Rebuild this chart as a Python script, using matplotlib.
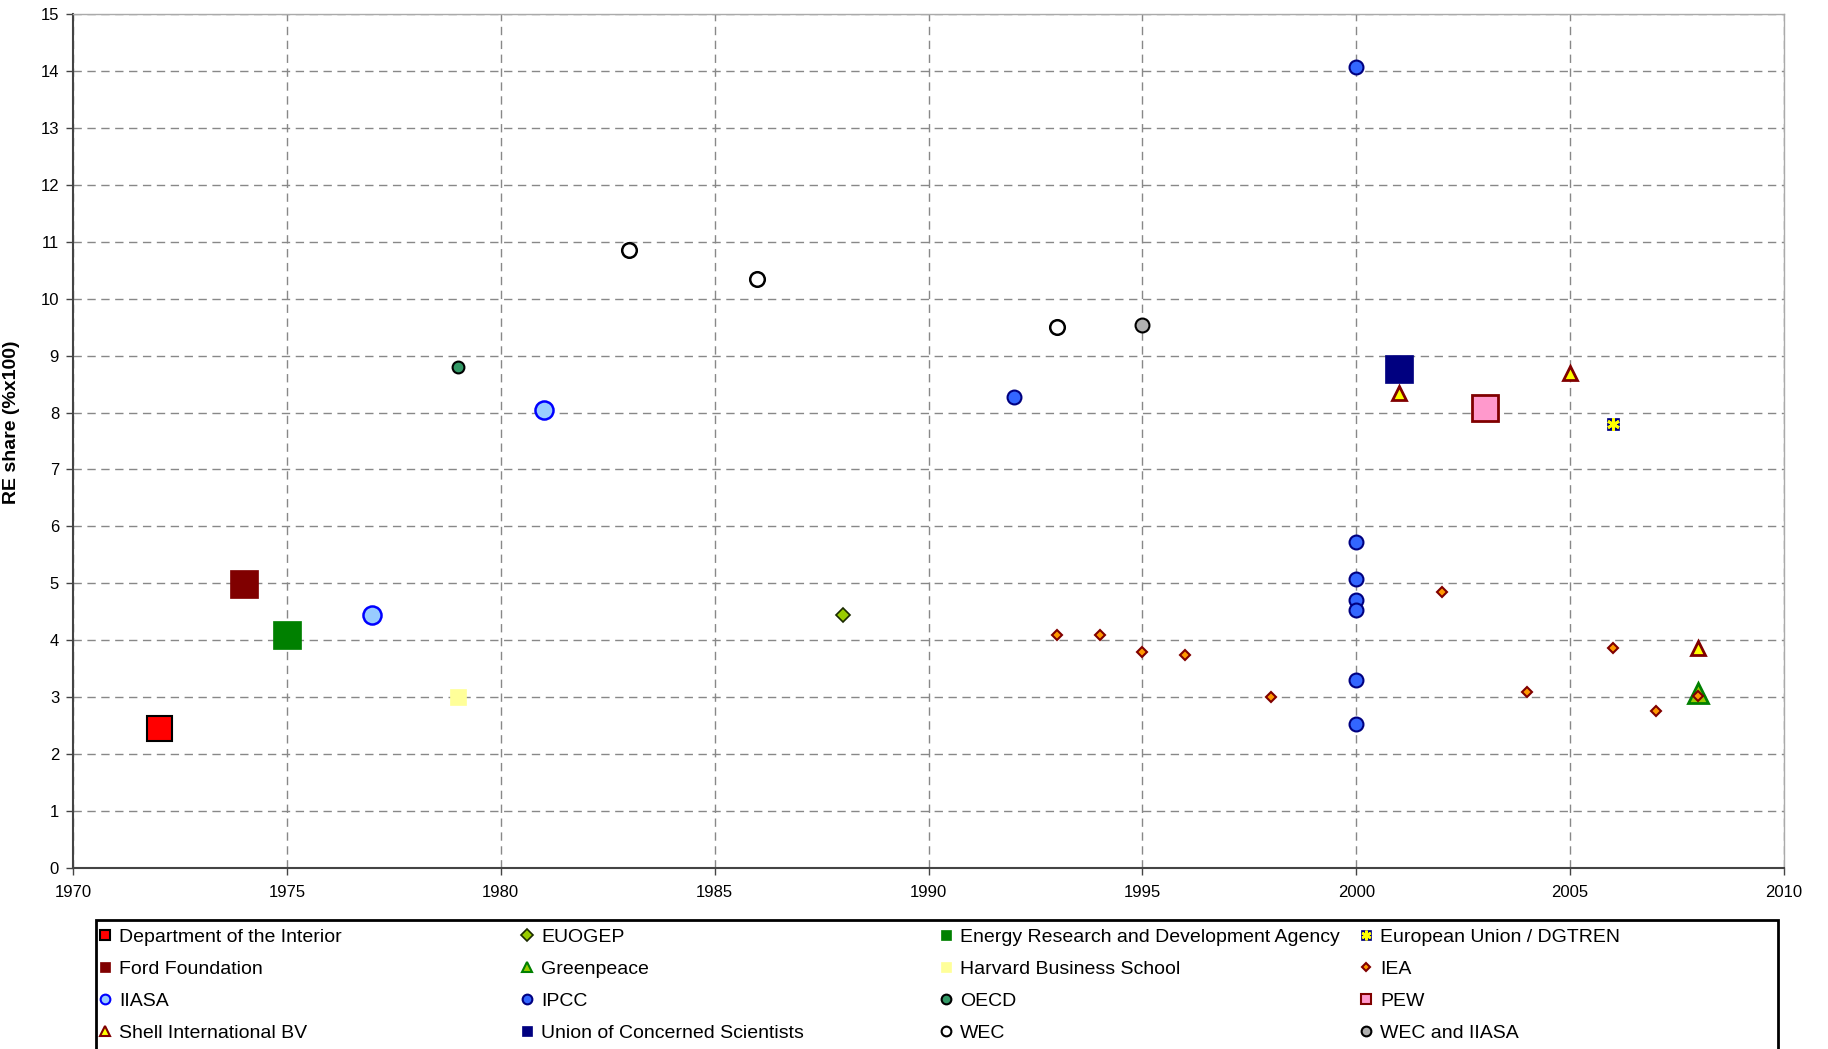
import matplotlib.pyplot as plt
from matplotlib.lines import Line2D
from matplotlib.patches import Rectangle
from matplotlib.legend_handler import HandlerTuple

plt.rcParams['font.family'] = ['Liberation Sans', 'DejaVu Sans']

# scenario year / RE share per organisation
dept_interior_x = [1972]
dept_interior_y = [2.46]
euogep_x = [1988]
euogep_y = [4.45]
erda_x = [1975]
erda_y = [4.1]
eu_dgtren_x = [2006]
eu_dgtren_y = [7.8]
ford_x = [1974]
ford_y = [4.98]
greenpeace_x = [2008]
greenpeace_y = [3.08]
harvard_x = [1979]
harvard_y = [3.0]
iea_x = [1993, 1994, 1995, 1996, 1998, 2002, 2004, 2006, 2007, 2008]
iea_y = [4.1, 4.1, 3.8, 3.75, 3.0, 4.84, 3.1, 3.86, 2.75, 3.02]
iiasa_x = [1977, 1981]
iiasa_y = [4.45, 8.05]
ipcc_x = [1992, 2000, 2000, 2000, 2000, 2000, 2000, 2000]
ipcc_y = [8.28, 14.07, 5.72, 5.08, 4.70, 4.53, 3.31, 2.53]
oecd_x = [1979]
oecd_y = [8.8]
pew_x = [2003]
pew_y = [8.08]
shell_x = [2001, 2005, 2008]
shell_y = [8.35, 8.7, 3.87]
ucs_x = [2001]
ucs_y = [8.76]
wec_x = [1983, 1986, 1993]
wec_y = [10.85, 10.35, 9.5]
wec_iiasa_x = [1995]
wec_iiasa_y = [9.53]

# name, x, y, marker, size, legend size, face, edge, edge width
series = [
    ('Department of the Interior', dept_interior_x, dept_interior_y, 's', 18, 7, '#FF0000', '#000000', 1.5),
    ('EUOGEP', euogep_x, euogep_y, 'D', 7, 6, '#99CC00', '#1a2a00', 1.2),
    ('Energy Research and Development Agency', erda_x, erda_y, 's', 20, 7, '#008000', '#008000', 0.5),
    ('European Union / DGTREN', eu_dgtren_x, eu_dgtren_y, 's', 8.5, 7, '#000080', '#000080', 0.5),
    ('Ford Foundation', ford_x, ford_y, 's', 20, 7, '#800000', '#800000', 0.5),
    ('Greenpeace', greenpeace_x, greenpeace_y, '^', 14, 7.5, '#99CC00', '#008000', 2.0),
    ('Harvard Business School', harvard_x, harvard_y, 's', 11, 7, '#FFFF99', '#FFFF99', 0.5),
    ('IEA', iea_x, iea_y, 'D', 5, 4.5, '#FF9900', '#800000', 1.5),
    ('IIASA', iiasa_x, iiasa_y, 'o', 13, 7, '#99CCFF', '#0000FF', 1.8),
    ('IPCC', ipcc_x, ipcc_y, 'o', 10, 7, '#3366FF', '#000080', 1.5),
    ('OECD', oecd_x, oecd_y, 'o', 8.5, 7, '#339966', '#000000', 1.5),
    ('PEW', pew_x, pew_y, 's', 19, 7, '#FF99CC', '#800000', 2.0),
    ('Shell International BV', shell_x, shell_y, '^', 10, 7, '#FFFF00', '#800000', 2.0),
    ('Union of Concerned Scientists', ucs_x, ucs_y, 's', 20, 7, '#000080', '#000080', 0.5),
    ('WEC', wec_x, wec_y, 'o', 10.5, 7, '#FFFFFF', '#000000', 1.8),
    ('WEC and IIASA', wec_iiasa_x, wec_iiasa_y, 'o', 10, 7, '#B0B0B0', '#000000', 1.5),
]

fig = plt.figure(figsize=(18.28, 10.49), dpi=100)
ax = fig.add_axes([73 / 1828, 1 - 868 / 1049, (1784 - 73) / 1828, (868 - 14) / 1049])

handles = []
for name, xs, ys, mk, ms, lms, fc, ec, ew in series:
    ax.plot(xs, ys, linestyle='none', marker=mk, markersize=ms,
            markerfacecolor=fc, markeredgecolor=ec, markeredgewidth=ew, zorder=3)
    h = Line2D([], [], linestyle='none', marker=mk, markersize=lms,
               markerfacecolor=fc, markeredgecolor=ec, markeredgewidth=min(ew, 1.5))
    if name == 'European Union / DGTREN':
        # excel "star" marker: yellow cross strokes on a navy square
        ax.plot(xs, ys, linestyle='none', marker=(6, 2, 0), markersize=9,
                markeredgecolor='#FFFF00', markeredgewidth=2, zorder=4)
        star = Line2D([], [], linestyle='none', marker=(6, 2, 0), markersize=7,
                      markeredgecolor='#FFFF00', markeredgewidth=1.8)
        h = (h, star)
    handles.append((h, name))

ax.set_xlim(1970, 2010)
ax.set_ylim(0, 15)
ax.set_xticks(range(1970, 2011, 5))
ax.set_yticks(range(0, 16))
ax.tick_params(direction='out', length=5, width=1, labelsize=12, pad=5, color='#444444')
ax.tick_params(axis='x', pad=7)
ax.grid(True, linestyle=(0, (6, 4)), color='#888888', linewidth=1)
ax.set_axisbelow(True)
for side in ['left', 'bottom']:
    ax.spines[side].set_color('#444444')
    ax.spines[side].set_linewidth(1.5)
for side in ['top', 'right']:
    ax.spines[side].set_color('#AAAAAA')
    ax.spines[side].set_linewidth(1)
ax.set_ylabel('RE share (%x100)', fontsize=14, fontweight='bold')
ax.yaxis.set_label_coords(-0.031, 0.522)

# legend frame, cut off by the bottom of the figure like the original
fig.patches.append(Rectangle((96 / 1828, -0.02), (1778 - 96) / 1828, 0.02 + (1049 - 920) / 1049,
                             transform=fig.transFigure, fill=False, edgecolor='black',
                             linewidth=2))

col_x = [83, 505, 924, 1344]
for c in range(4):
    items = handles[c::4]
    fig.legend([h for h, _ in items], [n for _, n in items],
               loc='upper left', bbox_to_anchor=(col_x[c] / 1828, 1 - 915 / 1049),
               frameon=False, fontsize=14, handlelength=0.9, handletextpad=0.25,
               labelspacing=0.73, borderpad=0.2,
               handler_map={tuple: HandlerTuple(ndivide=1, pad=0)})

fig.savefig('out.png', dpi=100)
plt.close(fig)
